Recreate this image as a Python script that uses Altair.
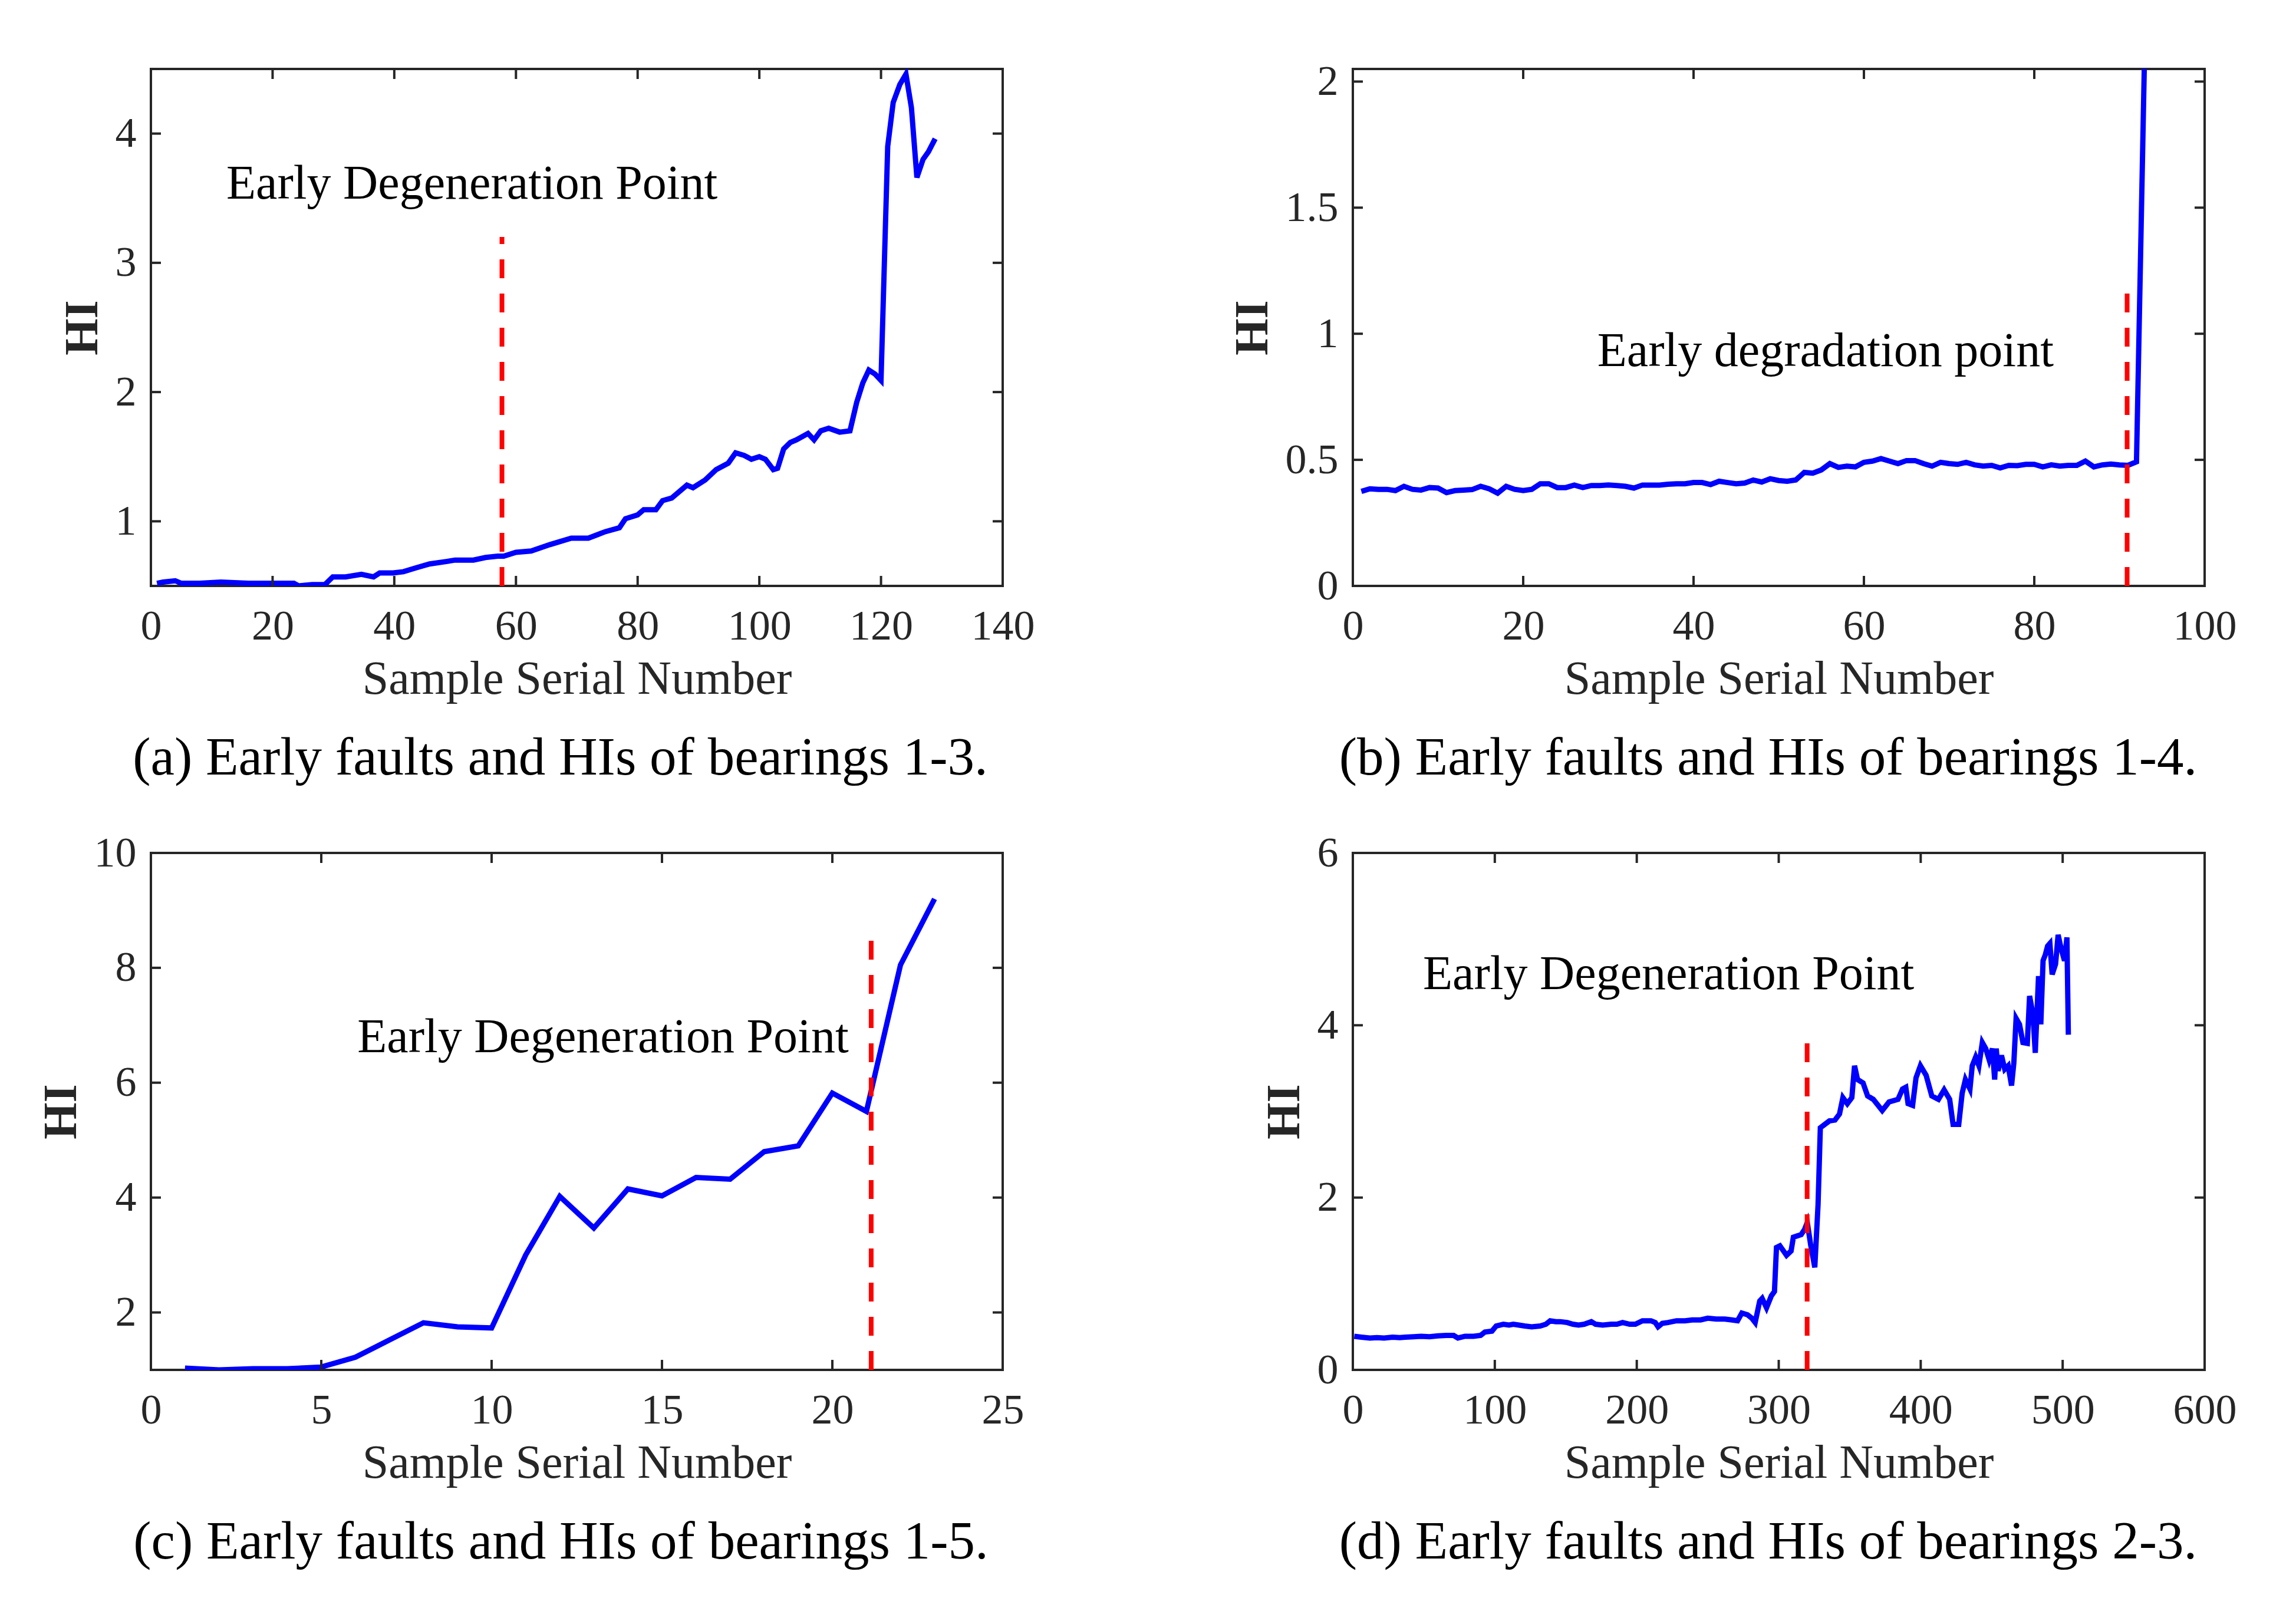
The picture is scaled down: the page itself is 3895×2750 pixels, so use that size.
import altair as alt
import pandas as pd

FONT = "Liberation Serif"
INK = "#262626"
W, H = 1445, 877
TICK = 17

# (a) bearing 1-3
a_x = [1, 2, 4, 5, 8, 11.5, 16, 20, 22, 23.5, 24.3, 26.5, 28.6, 29.9, 32, 34.6, 36.6, 37.6, 39.8, 41.5,
       43.6, 45.8, 48.7, 50, 53, 55, 57, 58, 60, 62.5, 65.6, 69.1, 71.9, 74.7, 77, 78, 80, 81, 83, 84.1,
       85.6, 88.1, 89.1, 91.1, 92.9, 94.9, 96.1, 97.5, 98.7, 100, 101, 102.3, 103, 104, 105.1, 106.1, 108, 109, 110.1, 111.4,
       113.2, 114.9, 116, 117, 118, 119, 120, 121.1, 122, 123.1, 124.1, 125, 125.9, 126.9, 127.8, 128.9]
a_y = [0.52, 0.53, 0.54, 0.52, 0.52, 0.53, 0.52, 0.52, 0.52, 0.52, 0.50, 0.51, 0.51, 0.57, 0.57, 0.59, 0.57, 0.60, 0.60, 0.61,
       0.64, 0.67, 0.69, 0.70, 0.70, 0.72, 0.73, 0.73, 0.76, 0.77, 0.82, 0.87, 0.87, 0.92, 0.95, 1.02, 1.05, 1.09, 1.09, 1.16,
       1.18, 1.28, 1.26, 1.32, 1.40, 1.45, 1.53, 1.51, 1.48, 1.50, 1.48, 1.40, 1.41, 1.56, 1.61, 1.63, 1.68, 1.63, 1.70, 1.72,
       1.69, 1.70, 1.92, 2.07, 2.17, 2.14, 2.09, 3.90, 4.24, 4.38, 4.46, 4.20, 3.66, 3.80, 3.86, 3.96]

# (b) bearing 1-4
b_x = list(range(1, 94))
b_y = [0.375, 0.385, 0.383, 0.383, 0.378, 0.395, 0.383, 0.380, 0.390, 0.388,
       0.370, 0.378, 0.380, 0.382, 0.395, 0.385, 0.368, 0.395, 0.383, 0.378,
       0.383, 0.405, 0.405, 0.390, 0.390, 0.400, 0.390, 0.398, 0.398, 0.400,
       0.398, 0.395, 0.388, 0.400, 0.400, 0.400, 0.403, 0.405, 0.405, 0.410,
       0.410, 0.402, 0.415, 0.410, 0.405, 0.408, 0.420, 0.412, 0.425, 0.418,
       0.415, 0.420, 0.450, 0.447, 0.460, 0.485, 0.470, 0.475, 0.472, 0.490,
       0.495, 0.505, 0.495, 0.485, 0.497, 0.497, 0.485, 0.475, 0.490, 0.485,
       0.482, 0.490, 0.480, 0.475, 0.478, 0.468, 0.478, 0.477, 0.482, 0.482,
       0.472, 0.480, 0.475, 0.478, 0.478, 0.495, 0.472, 0.480, 0.483, 0.480,
       0.478, 0.492, 2.20]

# (c) bearing 1-5
c_x = list(range(1, 24))
c_y = [1.03, 1.00, 1.02, 1.02, 1.05, 1.22, 1.52, 1.82, 1.75, 1.73, 3.00, 4.02, 3.47, 4.15, 4.03, 4.35,
       4.32, 4.80, 4.90, 5.82, 5.50, 8.05, 9.20]

# (d) bearing 2-3
d_x = [1, 6, 12, 17, 22, 28, 33, 37, 43, 48, 54, 60, 66, 71, 74, 79, 85, 90, 93, 98,
       101, 106, 110, 113, 117, 121, 126, 132, 136, 139, 143, 146, 151, 155, 159, 163, 168, 171, 176, 182,
       186, 190, 195, 199, 204, 210, 213, 215, 218, 222, 228, 234, 239, 245, 250, 256, 262, 267, 271, 274,
       278, 281, 283.4, 286.6, 288.3, 291.4, 294.8, 297, 298.4, 300.8, 305.5, 308.7, 310.3, 315.8, 318.2, 320.1, 321.4, 322.5, 325.4, 327.7,
       329.3, 332.5, 335.7, 339.6, 342.8, 345.2, 348.3, 351.5, 353.4, 355.5, 359.4, 362.6, 366.6, 372.9, 377.7, 384, 387.2, 389.5, 391.1, 394.3,
       396.7, 399.8, 403.8, 407.8, 412.5, 416.5, 420.4, 422.8, 426.8, 429.2, 431.5, 434.7, 436.3, 438.7, 441, 443.4, 445.8, 448.2, 450.5, 452.1,
       453.2, 454.5, 456.9, 459.2, 461.6, 464, 465.6, 467.2, 469.6, 472, 475.1, 476.7, 479.1, 480.7, 483, 484.6, 486.2, 487.8, 489.4, 491,
       492.6, 495, 496.8, 498.9, 501.3, 503, 504]
d_y = [0.39, 0.38, 0.37, 0.375, 0.37, 0.38, 0.375, 0.38, 0.385, 0.39, 0.385, 0.395, 0.40, 0.40, 0.37, 0.39, 0.39, 0.40, 0.44, 0.45,
       0.51, 0.53, 0.52, 0.53, 0.52, 0.51, 0.50, 0.51, 0.53, 0.57, 0.56, 0.56, 0.55, 0.53, 0.52, 0.53, 0.56, 0.53, 0.52, 0.53,
       0.53, 0.55, 0.53, 0.53, 0.57, 0.57, 0.55, 0.50, 0.54, 0.55, 0.57, 0.57, 0.58, 0.58, 0.60, 0.59, 0.59, 0.58, 0.57, 0.66,
       0.64, 0.60, 0.55, 0.80, 0.83, 0.72, 0.86, 0.91, 1.42, 1.44, 1.33, 1.38, 1.54, 1.57, 1.63, 1.71, 1.57, 1.45, 1.19, 1.92,
       2.81, 2.85, 2.89, 2.90, 2.97, 3.16, 3.09, 3.16, 3.53, 3.37, 3.33, 3.18, 3.14, 3.01, 3.11, 3.14, 3.26, 3.28, 3.09, 3.07,
       3.39, 3.53, 3.42, 3.18, 3.14, 3.25, 3.14, 2.85, 2.85, 3.21, 3.37, 3.26, 3.53, 3.63, 3.53, 3.80, 3.73, 3.60, 3.73, 3.37,
       3.73, 3.47, 3.65, 3.49, 3.53, 3.30, 3.56, 4.08, 4.01, 3.80, 3.79, 4.34, 4.12, 3.68, 4.57, 4.01, 4.75, 4.82, 4.92, 4.95,
       4.59, 4.71, 5.05, 4.89, 4.75, 5.02, 3.89]


def panel(xs, ys, x_dom, y_dom, x_ticks, y_ticks, fault, note, caption, cap_dx):
    x_axis = alt.Axis(values=x_ticks, labelExpr="'' + datum.value", labelPadding=33, titlePadding=15)
    y_axis = alt.Axis(values=y_ticks, labelExpr="'' + datum.value", labelPadding=25, titlePadding=14,
                      titleFontWeight="bold")
    # every layer shares the same scale, axis and title so they merge cleanly
    enc_x = alt.X("x:Q", scale=alt.Scale(domain=x_dom, nice=False, zero=False),
                  axis=x_axis, title="Sample Serial Number")
    enc_y = alt.Y("y:Q", scale=alt.Scale(domain=y_dom, nice=False, zero=False),
                  axis=y_axis, title="HI")

    line = alt.Chart(pd.DataFrame({"x": xs, "y": ys})).mark_line(
        color="#0000ff", strokeWidth=9, clip=True
    ).encode(x=enc_x, y=enc_y)

    fx, fy0, fy1 = fault
    red = alt.Chart(pd.DataFrame({"x": [fx], "y": [fy0], "y2": [fy1]})).mark_rule(
        color="#ff0000", strokeWidth=8, strokeDash=[32, 26]
    ).encode(x=enc_x, y=enc_y, y2="y2:Q")

    xt = alt.Chart(pd.DataFrame({"x": x_ticks})).mark_rule(color=INK, strokeWidth=4)
    yt = alt.Chart(pd.DataFrame({"y": y_ticks})).mark_rule(color=INK, strokeWidth=4)
    ticks = [
        xt.encode(x=enc_x, y=alt.value(H), y2=alt.value(H - TICK)),
        xt.encode(x=enc_x, y=alt.value(0), y2=alt.value(TICK)),
        yt.encode(y=enc_y, x=alt.value(0), x2=alt.value(TICK)),
        yt.encode(y=enc_y, x=alt.value(W), x2=alt.value(W - TICK)),
    ]

    nx, ny, ntext = note
    label = alt.Chart(pd.DataFrame({"x": [nx], "y": [ny], "t": [ntext]})).mark_text(
        align="left", baseline="middle", font=FONT, fontSize=82, color="black"
    ).encode(x=enc_x, y=enc_y, text="t:N")

    return alt.layer(line, red, *ticks, label).properties(
        width=W,
        height=H,
        title=alt.TitleParams(
            text=caption, orient="bottom", frame="group", anchor="middle", dx=cap_dx,
            offset=50, font=FONT, fontSize=91, fontWeight="normal", color="black",
        ),
    )


pa = panel(a_x, a_y, [0, 140], [0.5, 4.5], [0, 20, 40, 60, 80, 100, 120, 140], [1, 2, 3, 4],
           (57.7, 0.5, 3.2), (12.4, 3.61, "Early Degeneration Point"),
           "(a) Early faults and HIs of bearings 1-3.", -28)
pb = panel(b_x, b_y, [0, 100], [0, 2.05], [0, 20, 40, 60, 80, 100], [0, 0.5, 1, 1.5, 2],
           (90.9, 0, 1.2), (28.7, 0.93, "Early degradation point"),
           "(b) Early faults and HIs of bearings 1-4.", -18)
pc = panel(c_x, c_y, [0, 25], [1, 10], [0, 5, 10, 15, 20, 25], [2, 4, 6, 8, 10],
           (21.14, 1, 8.65), (6.06, 6.79, "Early Degeneration Point"),
           "(c) Early faults and HIs of bearings 1-5.", -27)
pd_ = panel(d_x, d_y, [0, 600], [0, 6], [0, 100, 200, 300, 400, 500, 600], [0, 2, 4, 6],
            (320, 0, 3.96), (49.4, 4.59, "Early Degeneration Point"),
            "(d) Early faults and HIs of bearings 2-3.", -18)

chart = alt.concat(
    pa, pb, pc, pd_, columns=2, spacing={"row": 453, "column": 594}, bounds="flush"
).properties(
    padding={"left": 54, "top": 92, "right": 20, "bottom": 20},
    background="white",
).configure_view(
    stroke=INK, strokeWidth=4
).configure_axis(
    grid=False, ticks=False, domain=False, labelFlush=False, labelOverlap=False,
    labelFont=FONT, labelFontSize=72, labelColor=INK,
    titleFont=FONT, titleFontSize=80, titleColor=INK, titleFontWeight="normal",
)

chart.save("out.html", embed_options={"renderer": "svg", "actions": False})
